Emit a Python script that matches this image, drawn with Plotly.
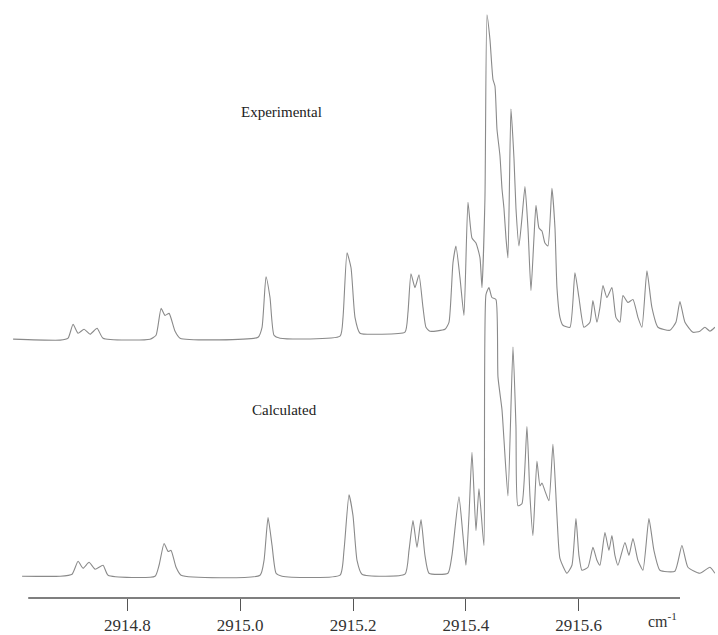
import plotly.graph_objects as go

# Wavenumbers (cm^-1) and intensities (arbitrary units)
exp_wn = [2914.5972, 2914.6805, 2914.6947, 2914.7035, 2914.7124, 2914.7230, 2914.7337, 2914.7461, 2914.7567,
          2914.8401, 2914.8507, 2914.8596, 2914.8667, 2914.8738, 2914.8844, 2914.8933,
          2915.0316, 2915.0387, 2915.0457, 2915.0528, 2915.0599, 2915.0706,
          2915.1770, 2915.1823, 2915.1894, 2915.1965, 2915.2035, 2915.2124, 2915.2479,
          2915.2922, 2915.2975, 2915.3028, 2915.3099, 2915.3170, 2915.3241, 2915.3294, 2915.3365,
          2915.3631, 2915.3702, 2915.3773, 2915.3826, 2915.3897, 2915.3968, 2915.4039, 2915.4110,
          2915.4181, 2915.4252, 2915.4287, 2915.4340, 2915.4376, 2915.4429, 2915.4482, 2915.4518,
          2915.4553, 2915.4606, 2915.4642, 2915.4677, 2915.4713, 2915.4748, 2915.4801, 2915.4855,
          2915.4890, 2915.4943, 2915.4996, 2915.5050, 2915.5103, 2915.5156, 2915.5209, 2915.5245,
          2915.5298, 2915.5351, 2915.5404, 2915.5457, 2915.5528, 2915.5582, 2915.5617, 2915.5670,
          2915.5723, 2915.5848, 2915.5936, 2915.6007, 2915.6096, 2915.6202, 2915.6255, 2915.6326,
          2915.6379, 2915.6433, 2915.6503, 2915.6592, 2915.6663, 2915.6734, 2915.6787, 2915.6876,
          2915.6965, 2915.7053, 2915.7124, 2915.7213, 2915.7301, 2915.7408, 2915.7621, 2915.7727,
          2915.7798, 2915.7887, 2915.8028, 2915.8152, 2915.8241, 2915.8330, 2915.8418]
exp_int = [-2, -3, -1, 13, 4, 8, 3, 9, -1,
           -2, 2, 29, 22, 24, 6, -1,
           0, 10, 61, 40, 2, -1,
           1, 20, 85, 70, 20, 4, 3,
           5, 25, 64, 50, 63, 30, 10, 6,
           8, 15, 75, 92, 60, 22, 136, 100,
           95, 80, 50, 140, 325, 300, 260, 253,
           210, 183, 150, 130, 100, 80, 230, 180,
           130, 92, 120, 152, 110, 47, 100, 133,
           110, 107, 95, 92, 150, 110, 50, 20,
           12, 10, 65, 40, 10, 15, 37, 15,
           30, 52, 40, 50, 20, 15, 42, 35,
           38, 20, 10, 67, 30, 10, 7, 15,
           36, 15, 5, 6, 10, 6, 10]

calc_wn = [2914.6131, 2914.6805, 2914.7018, 2914.7124, 2914.7213, 2914.7319, 2914.7426, 2914.7567, 2914.7656,
           2914.8489, 2914.8560, 2914.8649, 2914.8720, 2914.8773, 2914.8862, 2914.8950,
           2915.0351, 2915.0422, 2915.0493, 2915.0564, 2915.0635, 2915.0741,
           2915.1770, 2915.1840, 2915.1929, 2915.2000, 2915.2071, 2915.2159,
           2915.2922, 2915.2993, 2915.3064, 2915.3135, 2915.3206, 2915.3276, 2915.3347,
           2915.3684, 2915.3755, 2915.3879, 2915.3950, 2915.4003, 2915.4057, 2915.4110, 2915.4181,
           2915.4234, 2915.4322, 2915.4358, 2915.4411, 2915.4464, 2915.4535, 2915.4571, 2915.4642,
           2915.4677, 2915.4748, 2915.4837, 2915.4890, 2915.4925, 2915.4996, 2915.5085, 2915.5138,
           2915.5191, 2915.5262, 2915.5316, 2915.5351, 2915.5404, 2915.5475, 2915.5546, 2915.5617,
           2915.5670, 2915.5794, 2915.5883, 2915.5954, 2915.6007, 2915.6060, 2915.6167, 2915.6255,
           2915.6326, 2915.6379, 2915.6468, 2915.6539, 2915.6592, 2915.6645, 2915.6699, 2915.6823,
           2915.6894, 2915.6965, 2915.7053, 2915.7142, 2915.7248, 2915.7337, 2915.7443, 2915.7709,
           2915.7833, 2915.7940, 2915.8152, 2915.8330, 2915.8418]
calc_int = [0, 0, 2, 15, 8, 14, 7, 11, 1,
            0, 11, 33, 25, 26, 9, 1,
            1, 16, 59, 31, 3, 0,
            1, 26, 82, 61, 16, 2,
            2, 26, 56, 29, 57, 21, 3,
            3, 21, 80, 41, 11, 61, 125, 46,
            88, 31, 284, 291, 281, 279, 201, 168,
            138, 81, 231, 151, 71, 73, 151, 81,
            41, 116, 91, 94, 86, 76, 133, 61,
            18, 3, 11, 58, 21, 6, 9, 29,
            16, 11, 44, 26, 41, 21, 11, 34,
            21, 38, 16, 6, 58, 26, 6, 5,
            31, 9, 3, 9, 3]

tick_vals = [2914.8, 2915.0, 2915.2, 2915.4, 2915.6]
tick_text = ["2914.8", "2915.0", "2915.2", "2915.4", "2915.6"]
labels = ["Experimental", "Calculated"]
x_range = [2914.597, 2915.842]
axis_span = [2914.624, 2915.780]

serif = "Liberation Serif, Times New Roman, serif"
line_col = "#8a8a8a"

fig = go.Figure()
fig.add_trace(go.Scatter(x=exp_wn, y=exp_int, mode="lines", yaxis="y2",
                         line=dict(color=line_col, width=1.1, shape="spline", smoothing=0.5),
                         hoverinfo="skip"))
fig.add_trace(go.Scatter(x=calc_wn, y=calc_int, mode="lines", yaxis="y",
                         line=dict(color=line_col, width=1.1, shape="spline", smoothing=0.5),
                         hoverinfo="skip"))

fig.add_shape(type="line", xref="x", yref="paper", x0=axis_span[0], x1=axis_span[1],
              y0=0, y1=0, line=dict(color="#555555", width=1.6))

fig.add_annotation(text=labels[0], xref="paper", yref="paper", x=0.383, y=0.8126,
                   xanchor="center", yanchor="middle",
                   showarrow=False, font=dict(family=serif, size=15, color="#222222"))
fig.add_annotation(text=labels[1], xref="paper", yref="paper", x=0.387, y=0.315,
                   xanchor="center", yanchor="middle",
                   showarrow=False, font=dict(family=serif, size=15, color="#222222"))
fig.add_annotation(text="cm<sup>-1</sup>", xref="paper", yref="paper", x=0.925, y=-0.036,
                   xanchor="center", yanchor="middle",
                   showarrow=False, font=dict(family=serif, size=16, color="#333333"))

fig.update_layout(
    width=718, height=635,
    margin=dict(l=13, r=3, t=0, b=32),
    paper_bgcolor="white", plot_bgcolor="white",
    showlegend=False,
    xaxis=dict(range=x_range, showgrid=False, zeroline=False, showline=False,
               tickvals=tick_vals, ticktext=tick_text, ticks="outside", ticklen=12,
               tickwidth=1.2, tickcolor="#555555",
               tickfont=dict(family=serif, size=17, color="#333333")),
    yaxis=dict(range=[-22, 581], visible=False, fixedrange=True),
    yaxis2=dict(range=[-263, 340], visible=False, overlaying="y", fixedrange=True),
)

fig.write_html("out.html")
